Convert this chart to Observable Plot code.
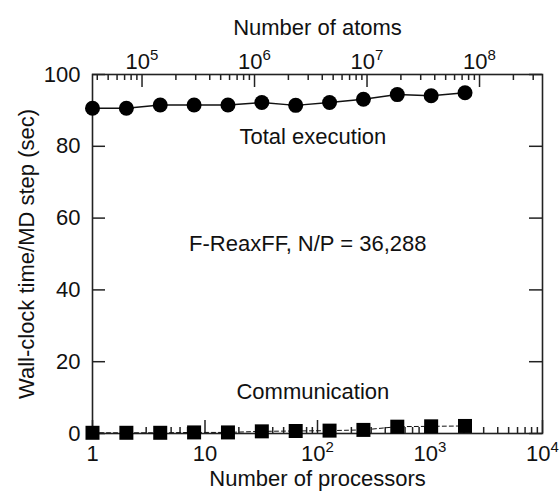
<!DOCTYPE html>
<html>
<head>
<meta charset="utf-8">
<script src="https://cdn.jsdelivr.net/npm/d3@7"></script>
<script src="https://cdn.jsdelivr.net/npm/@observablehq/plot@0.6"></script>
<style>
  html, body { margin: 0; padding: 0; background: #fff; }
  #chart { width: 560px; height: 494px; }
</style>
</head>
<body>
<div id="chart"></div>
<script>
// ---- data ----
const processors = [1, 2, 4, 8, 16, 32, 64, 128, 256, 512, 1024, 2048];
const totalExecution = [90.6, 90.6, 91.5, 91.5, 91.5, 92.2, 91.4, 92.2, 93.1, 94.4, 94.1, 94.9];
const communication = [0.2, 0.2, 0.2, 0.3, 0.3, 0.6, 0.7, 0.8, 1.0, 1.9, 2.0, 2.1];
const atomsPerProcessor = 36288;

const bottomTicks = [1, 10, 100, 1000, 10000];
const bottomTickLabels = ["1", "10", "10^2", "10^3", "10^4"];
const topTicksAtoms = [1e5, 1e6, 1e7, 1e8];
const topTickLabels = ["10^5", "10^6", "10^7", "10^8"];
const yTicks = [0, 20, 40, 60, 80, 100];

const annotations = [
  {label: "Total execution", p: 91, v: 82.6},
  {label: "F-ReaxFF, N/P = 36,288", p: 82, v: 52.8},
  {label: "Communication", p: 91, v: 11.7}
];

// ---- derived tables ----
const rows = processors.map((p, i) => ({p, total: totalExecution[i], comm: communication[i]}));
const topTicks = topTicksAtoms.map((a, i) => ({p: a / atomsPerProcessor, label: topTickLabels[i]}));
const xMin = 1, xMax = 10000;
const minorBottom = [];
for (let k = 0; k < 4; k++) for (let m = 2; m <= 9; m++) minorBottom.push(m * 10 ** k);
const minorTopP = [];
for (let k = 4; k <= 8; k++) for (let m = 2; m <= 9; m++) {
  const p = (m * 10 ** k) / atomsPerProcessor;
  if (p > xMin && p < xMax) minorTopP.push(p);
}

const W = 560, H = 494, mL = 92, mR = 18, mT = 74, mB = 61;
const innerW = W - mL - mR, innerH = H - mT - mB;
const major = 13, minor = 6, tickColor = "#222", tickW = 1.5;

const chart = Plot.plot({
  width: W, height: H,
  marginLeft: mL, marginRight: mR, marginTop: mT, marginBottom: mB,
  x: {type: "log", domain: [xMin, xMax], axis: null},
  y: {domain: [0, 100], axis: null},
  style: {fontFamily: "'Liberation Sans', Arial, Helvetica, sans-serif", fontSize: "22px", background: "#fff", color: "#111"},
  marks: [
    // tick marks pointing inward
    Plot.ruleX(bottomTicks, {x: d => d, insetTop: innerH - major, stroke: tickColor, strokeWidth: tickW}),
    Plot.ruleX(minorBottom, {x: d => d, insetTop: innerH - minor, stroke: tickColor, strokeWidth: tickW}),
    Plot.ruleX(topTicks, {x: "p", insetBottom: innerH - major, stroke: tickColor, strokeWidth: tickW}),
    Plot.ruleX(minorTopP, {x: d => d, insetBottom: innerH - minor, stroke: tickColor, strokeWidth: tickW}),
    Plot.ruleY(yTicks, {y: d => d, insetRight: innerW - major, stroke: tickColor, strokeWidth: tickW}),
    Plot.ruleY(yTicks, {y: d => d, insetLeft: innerW - major, stroke: tickColor, strokeWidth: tickW}),
    Plot.frame({stroke: "#222", strokeWidth: 1.6}),
    // axis labels
    Plot.axisX(bottomTicks, {anchor: "bottom", tickSize: 0, tickPadding: 12, label: null,
      tickFormat: d => bottomTickLabels[bottomTicks.indexOf(d)]}),
    Plot.text(topTicks, {x: "p", text: "label", frameAnchor: "top", dy: -6, lineAnchor: "bottom", textAnchor: "middle"}),
    Plot.axisY(yTicks, {anchor: "left", tickSize: 0, tickPadding: 12, label: null}),
    Plot.text(["Number of atoms"], {text: d => d, frameAnchor: "top", dy: -40, lineAnchor: "bottom"}),
    Plot.text(["Number of processors"], {text: d => d, frameAnchor: "bottom", dy: 37, lineAnchor: "top"}),
    Plot.text(["Wall-clock time/MD step (sec)"], {text: d => d, frameAnchor: "left", dx: -66, rotate: -90, lineAnchor: "middle", textAnchor: "middle"}),
    // series
    Plot.line(rows, {x: "p", y: "comm", stroke: "#111", strokeWidth: 1, strokeDasharray: "4,3"}),
    Plot.line(rows, {x: "p", y: "total", stroke: "#111", strokeWidth: 1.5}),
    Plot.dot(rows, {x: "p", y: "total", r: 7.5, fill: "#000", stroke: "none"}),
    Plot.dot(rows, {x: "p", y: "comm", r: 7.9, symbol: "square", fill: "#000", stroke: "none"}),
    // annotations
    Plot.text(annotations, {x: "p", y: "v", text: "label", textAnchor: "middle", lineAnchor: "middle"})
  ]
});
document.getElementById("chart").appendChild(chart);

// render "10^k" tick labels with a real superscript
const ns = "http://www.w3.org/2000/svg";
chart.querySelectorAll("text").forEach(t => {
  const m = t.textContent.match(/^(\d+)\^(\d+)$/);
  if (!m) return;
  t.textContent = "";
  const base = document.createElementNS(ns, "tspan");
  base.textContent = m[1];
  const sup = document.createElementNS(ns, "tspan");
  sup.textContent = m[2];
  sup.setAttribute("dy", "-9");
  sup.setAttribute("font-size", "15");
  t.append(base, sup);
});
</script>
</body>
</html>
